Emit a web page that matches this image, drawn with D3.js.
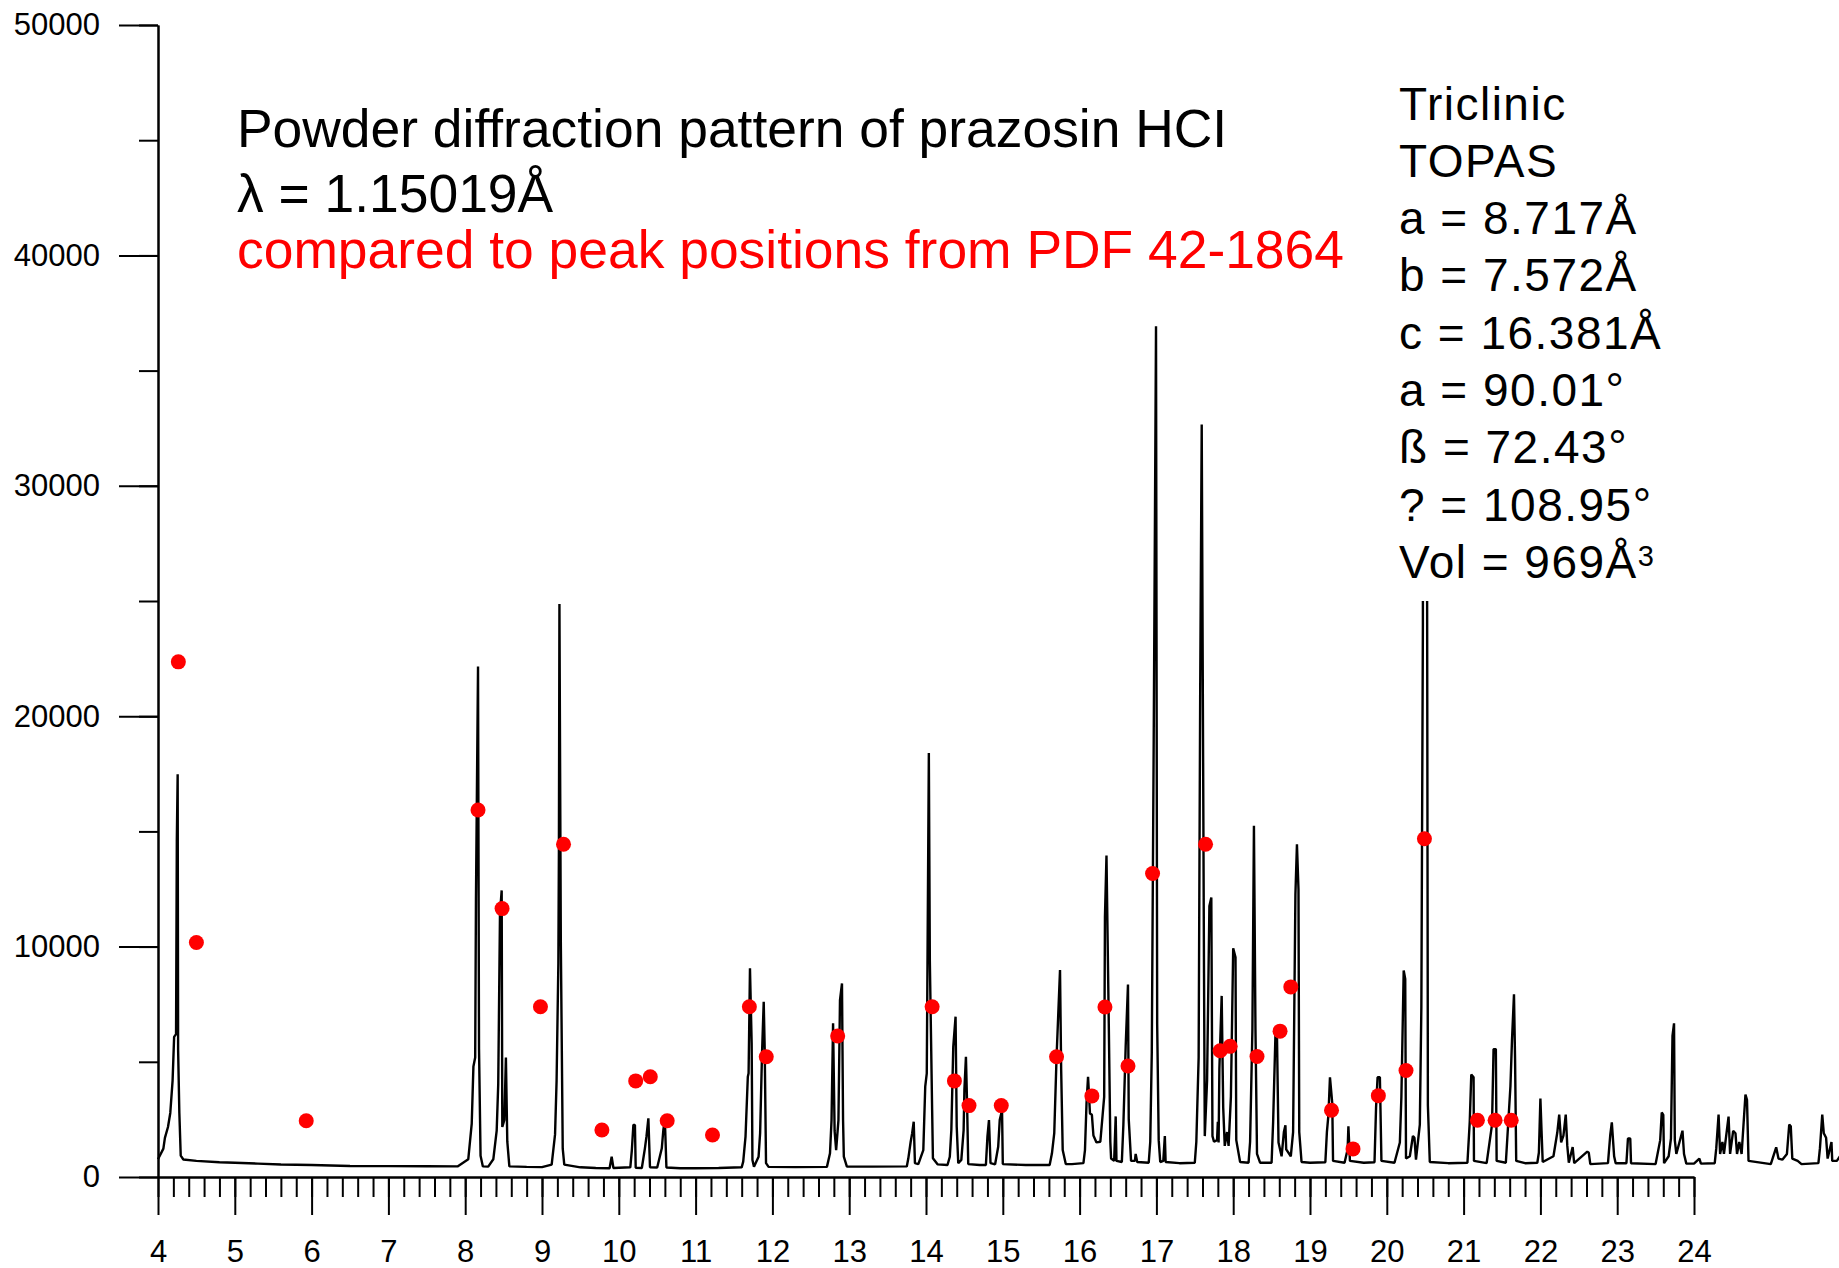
<!DOCTYPE html>
<html>
<head>
<meta charset="utf-8">
<script src="https://cdn.jsdelivr.net/npm/d3@7"></script>
<style>
  body { margin: 0; background: #fff; }
  svg text { font-family: "Liberation Sans", Arial, sans-serif; }
</style>
</head>
<body>
<div class="xrd"></div>
<script>
const pattern = [
  [4.00,770],[4.07,1230],[4.09,1700],[4.13,2170],[4.16,2780],[4.19,4180],[4.21,6080],[4.235,6200],
  [4.245,14580],[4.256,17480],[4.262,5500],[4.278,2780],[4.296,925],[4.33,760],[4.5,700],[4.8,640],
  [5.0,620],[5.3,580],[5.6,540],[6.0,520],[6.5,480],[7.0,470],[7.5,465],[7.9,460],
  [8.04,768],[8.085,2320],[8.107,4800],[8.13,5190],[8.14,12080],[8.167,22160],[8.18,5570],[8.20,925],
  [8.23,460],[8.30,450],[8.366,768],[8.41,2010],[8.43,4020],[8.453,11460],[8.475,12440],[8.483,2170],
  [8.51,2480],[8.53,5190],[8.548,1545],[8.575,460],[8.8,440],[9.0,430],
  [9.126,540],[9.17,1850],[9.19,4180],[9.213,9290],[9.22,14100],[9.227,24870],[9.245,10230],[9.27,1230],
  [9.29,540],[9.5,420],[9.7,390],[9.88,380],[9.907,880],[9.93,390],
  [10.15,420],[10.17,1170],[10.19,2260],[10.21,2260],[10.22,400],[10.3,390],[10.34,1245],[10.36,1750],
  [10.385,2545],[10.406,420],[10.5,410],[10.56,1245],[10.58,2040],[10.6,2470],[10.62,410],[10.8,380],
  [11.0,380],[11.3,390],[11.6,420],[11.62,665],[11.65,1750],[11.68,4350],[11.69,4500],[11.708,9060],
  [11.73,5800],[11.74,740],[11.76,450],[11.82,880],[11.84,1900],[11.865,5380],[11.887,7610],[11.9,5500],
  [11.917,600],[11.95,440],[12.3,430],[12.71,440],[12.75,1030],[12.77,2470],[12.79,6670],[12.81,2000],
  [12.83,1170],[12.86,2470],[12.88,7680],[12.906,8400],[12.92,2470],[12.93,880],[12.97,450],[13.3,450],
  [13.75,460],[13.77,810],[13.80,1520],[13.82,1900],[13.84,2400],[13.856,600],[13.9,560],
  [13.965,1170],[13.99,3920],[14.01,4500],[14.037,18400],[14.05,9400],[14.08,2900],[14.09,810],[14.15,550],
  [14.28,520],[14.31,880],[14.33,2040],[14.355,5650],[14.385,6960],[14.4,2180],[14.42,600],[14.46,740],
  [14.49,2040],[14.5,3780],[14.52,5220],[14.535,3180],[14.55,560],[14.7,520],[14.78,520],[14.80,1750],
  [14.82,2470],[14.84,600],[14.9,550],[14.94,1310],[14.96,2470],[14.99,2900],[15.0,560],[15.3,520],
  [15.61,520],[15.64,1030],[15.67,1900],[15.70,5220],[15.745,8980],[15.76,4650],[15.78,1170],[15.82,560],
  [15.9,560],[16.05,600],[16.07,1170],[16.09,3200],[16.11,4350],[16.135,2760],[16.16,2700],[16.18,1800],
  [16.22,1500],[16.27,1530],[16.32,3480],[16.33,11270],[16.35,13950],[16.38,6650],[16.40,1530],[16.41,800],
  [16.45,700],[16.47,2630],[16.48,700],[16.55,650],[16.57,2270],[16.60,5670],[16.63,8350],[16.64,2500],
  [16.67,700],[16.72,700],[16.73,1000],[16.75,650],[16.9,620],[16.92,1530],[16.94,5420],[16.965,19000],
  [16.995,36920],[17.01,6650],[17.03,1600],[17.05,650],[17.09,700],[17.11,1775],[17.12,650],[17.3,600],
  [17.5,620],[17.52,1530],[17.55,5180],[17.57,21000],[17.59,32660],[17.62,8840],[17.63,1775],[17.66,4200],
  [17.69,11760],[17.715,12130],[17.73,1775],[17.75,1530],[17.79,1600],[17.80,2400],[17.81,1500],[17.82,4700],
  [17.85,7860],[17.87,3000],[17.89,1350],[17.92,1950],[17.94,1350],[17.97,3480],[18.0,9930],[18.03,9540],
  [18.04,1600],[18.09,650],[18.2,620],[18.22,1530],[18.25,6400],[18.27,15240],[18.29,6400],[18.31,1000],
  [18.35,620],[18.5,620],[18.52,2400],[18.55,6160],[18.57,6160],[18.59,1500],[18.63,900],[18.66,1950],
  [18.68,2240],[18.69,1200],[18.75,900],[18.78,1950],[18.81,12250],[18.83,14440],[18.85,12490],[18.86,1950],
  [18.89,650],[19.0,620],[19.2,640],[19.22,1950],[19.24,2700],[19.26,4330],[19.29,3200],[19.30,700],
  [19.45,620],[19.49,1200],[19.50,2200],[19.52,700],[19.7,620],[19.84,640],[19.86,3000],[19.88,4330],
  [19.91,4330],[19.93,700],[20.1,620],[20.17,1500],[20.19,3480],[20.22,8960],[20.24,8600],[20.25,800],
  [20.3,900],[20.34,1780],[20.36,1700],[20.38,750],[20.43,2270],[20.45,7380],[20.47,24000],[20.472,42000],
  [20.523,42000],[20.525,25000],[20.535,3100],[20.56,650],[20.8,600],[21.05,620],[21.08,2400],[21.10,4450],
  [21.13,4330],[21.135,700],[21.3,600],[21.37,2270],[21.39,5550],[21.42,5550],[21.43,700],[21.55,620],
  [21.61,3950],[21.63,5930],[21.656,7930],[21.67,5140],[21.685,700],[21.8,600],[21.96,620],[21.98,1050],
  [21.99,2200],[22.0,3410],[22.015,2000],[22.03,650],[22.17,900],[22.22,1930],[22.245,2710],[22.27,1500],
  [22.30,1800],[22.33,2710],[22.35,1360],[22.37,620],[22.42,1300],[22.44,600],[22.61,1100],[22.63,1050],
  [22.65,560],[22.88,600],[22.91,1840],[22.93,2370],[22.96,900],[22.98,600],[23.12,600],[23.14,1670],
  [23.17,1670],[23.18,600],[23.5,560],[23.56,1600],[23.58,2800],[23.60,2700],[23.61,600],[23.67,900],
  [23.70,1670],[23.72,6120],[23.74,6670],[23.75,1600],[23.77,1000],[23.85,2010],[23.87,1000],[23.9,580],
  [24.0,580],[24.07,800],[24.09,580],[24.27,600],[24.29,1250],[24.32,2710],[24.34,1000],[24.37,1520],
  [24.39,1000],[24.45,2620],[24.47,1000],[24.51,2000],[24.54,1900],[24.56,1000],[24.59,1520],[24.62,1000],
  [24.67,3580],[24.69,3350],[24.71,700],[25.0,560],[25.07,1290],[25.1,800],[25.15,750],[25.21,1000],
  [25.24,2280],[25.26,2200],[25.28,800],[25.35,700],[25.4,560],[25.62,600],[25.64,1250],[25.67,2710],
  [25.69,1900],[25.72,1700],[25.74,800],[25.79,1520],[25.8,700],[25.86,700],[25.92,1000]
];

// PDF 42-1864 peak positions (red markers)
const pdfTheta  = [4.265,4.50,5.93,8.167,8.48,8.98,9.28,9.78,10.22,10.41,10.63,11.22,11.70,11.92,12.85,
                   14.08,14.37,14.56,14.98,15.70,16.16,16.33,16.63,16.95,17.64,17.83,17.96,18.31,18.61,
                   18.75,19.28,19.56,19.89,20.25,20.49,21.18,21.41,21.62];
const pdfCounts = [22360,10180,2440,15930,11650,7390,14440,2040,4170,4350,2440,1820,7390,5220,6120,
                   7390,4170,3100,3100,5220,3520,7380,4820,13170,14440,5480,5670,5230,6330,
                   8250,2900,1220,3530,4620,14680,2460,2460,2460];

const xMajor = d3.range(4, 24.5, 1);
const xMinor = d3.range(4, 24.01, 0.2).map(d => +d.toFixed(1));
const yMajor = d3.range(0, 50001, 10000);
const yMinor = d3.range(0, 50001, 5000);

const titleLines = ["Powder diffraction pattern of prazosin HCI", "\u03bb = 1.15019\u00c5"];
const redLine = "compared to peak positions from PDF 42-1864";
const cellLines = ["Triclinic","TOPAS","a = 8.717\u00c5","b = 7.572\u00c5","c = 16.381\u00c5",
                   "a = 90.01\u00b0","\u00df = 72.43\u00b0","? = 108.95\u00b0","Vol = 969\u00c5"];

var width = 1839, height = 1268;

var svg = d3.select(".xrd").append("svg")
  .attr("width", width)
  .attr("height", height);

var x = d3.scaleLinear().domain([4, 24]).range([158, 1694]);
var y = d3.scaleLinear().domain([0, 50000]).range([1177, 25]);

// minor ticks first, then the labelled axes on top
svg.append("g")
  .attr("transform", "translate(0,1177)")
  .call(d3.axisBottom(x).tickValues(xMinor).tickSize(20).tickSizeOuter(0).tickFormat(""));
svg.append("g")
  .attr("class", "xaxis")
  .attr("transform", "translate(0,1177)")
  .call(d3.axisBottom(x).tickValues(xMajor).tickSize(38).tickSizeOuter(0).tickPadding(25).tickFormat(d3.format("d")));

svg.append("g")
  .attr("transform", "translate(158,0)")
  .call(d3.axisLeft(y).tickValues(yMinor).tickSize(19).tickSizeOuter(0).tickFormat(""));
svg.append("g")
  .attr("class", "yaxis")
  .attr("transform", "translate(158,0)")
  .call(d3.axisLeft(y).tickValues(yMajor).tickSize(39).tickSizeOuter(0).tickPadding(19).tickFormat(d3.format("d")));

svg.selectAll(".domain, .tick line")
  .attr("stroke", "#000")
  .attr("stroke-width", 2);
svg.selectAll(".tick text")
  .attr("fill", "#000")
  .style("font-size", "31px");

// diffraction trace
var line = d3.line()
  .x(d => x(d[0]))
  .y(d => y(d[1]));

svg.append("path")
  .datum(pattern)
  .attr("fill", "none")
  .attr("stroke", "#000")
  .attr("stroke-width", 2.4)
  .attr("stroke-linejoin", "bevel")
  .attr("d", line);

// reference peak markers
svg.append("g").selectAll("circle")
  .data(pdfTheta)
  .enter().append("circle")
  .attr("cx", d => x(d))
  .attr("cy", (d, i) => y(pdfCounts[i]))
  .attr("r", 7.5)
  .attr("fill", "#ff0000");

// title block
var title = svg.append("g");
title.selectAll("text.t")
  .data(titleLines)
  .enter().append("text")
  .attr("x", 237)
  .attr("y", (d, i) => [147, 212][i])
  .style("font-size", "53.4px")
  .attr("fill", "#000")
  .text(d => d);
title.append("text")
  .attr("x", 237)
  .attr("y", 268)
  .style("font-size", "53.4px")
  .attr("fill", "#ff0000")
  .text(redLine);

// cell parameter box, white background hides the top of the 20.5 peak
var cell = svg.append("g");
cell.append("rect")
  .attr("x", 1388).attr("y", 55)
  .attr("width", 451).attr("height", 546)
  .attr("fill", "#fff");
var cellText = cell.selectAll("text")
  .data(cellLines)
  .enter().append("text")
  .attr("x", 1399)
  .attr("y", (d, i) => 119.5 + i * 57.3)
  .style("font-size", "46px")
  .style("letter-spacing", "1.5px")
  .attr("fill", "#000")
  .text(d => d);
cellText.filter((d, i) => i === cellLines.length - 1)
  .append("tspan")
  .attr("dy", -12)
  .style("font-size", "29px")
  .text("3");
</script>
</body>
</html>
